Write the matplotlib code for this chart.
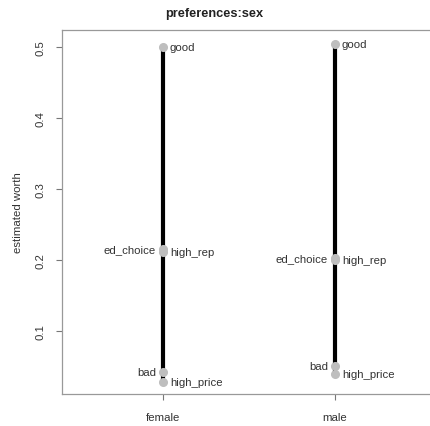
import matplotlib
matplotlib.use("Agg")
import matplotlib.pyplot as plt
import numpy as np

# groups and estimated worth of each item
groups = ["female", "male"]
items = ["good", "ed_choice", "high_rep", "bad", "high_price"]
female = [0.500, 0.216, 0.211, 0.042, 0.028]
male = [0.504, 0.203, 0.200, 0.051, 0.040]
label_side = ["right", "left", "right", "left", "right"]
yticks = [0.1, 0.2, 0.3, 0.4, 0.5]

plt.rcParams['font.family'] = ['Liberation Sans', 'DejaVu Sans']

fig = plt.figure(figsize=(4.31, 4.27), dpi=100)
ax = fig.add_axes([62 / 431, 1 - 395 / 427, (436 - 62) / 431, (395 - 31) / 427])

grey = "#bebebe"
txt = "#333333"
fs = 8.2
for xi, vals in enumerate([female, male], start=1):
    vals = np.array(vals)
    ax.plot([xi, xi], [vals.min(), vals.max()], color="black", lw=3.0,
            solid_capstyle="butt", zorder=2)
    ax.plot(np.full(len(vals), xi), vals, "o", color=grey, ms=5.5,
            mec=grey, zorder=3)
    for name, v, side in zip(items, vals, label_side):
        if side == "right":
            ax.annotate(name, (xi, v), xytext=(5, 0), textcoords="offset points",
                        ha="left", va="center", fontsize=fs, color=txt)
        else:
            ax.annotate(name, (xi, v), xytext=(-5, 0), textcoords="offset points",
                        ha="right", va="center", fontsize=fs, color=txt)

ax.set_xlim(1 - 101 / 172, 2 + 101 / 172)
ax.set_ylim(0.5 - 347 / 710, 0.5 + 17 / 710)
ax.set_xticks([1, 2])
ax.set_xticklabels(groups)
ax.set_yticks(yticks)
ax.set_yticklabels([f"{t:.1f}" for t in yticks], rotation=90, va="center")
ax.tick_params(colors="#777777", labelcolor=txt, labelsize=fs, length=4, pad=8)
ax.tick_params(axis="x", pad=9)
for s in ax.spines.values():
    s.set_color("#999999")
    s.set_linewidth(0.9)
ax.spines["right"].set_visible(False)

ax.set_ylabel("estimated worth", fontsize=fs, color=txt, labelpad=9)
ax.set_title("preferences:sex", fontsize=9.2, fontweight="bold", color="#222222",
             x=(214 - 62) / 374, pad=10)

fig.savefig("out.png", dpi=100)
